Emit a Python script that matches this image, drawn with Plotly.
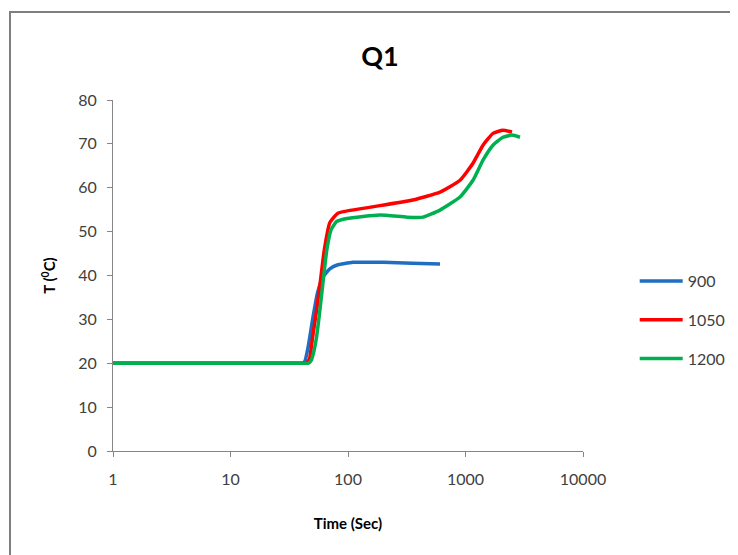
import plotly.graph_objects as go

# Series data (time in seconds, temperature in deg C)
t_900 = [1, 10, 30, 38, 41, 43, 46, 50, 55, 61, 70, 81, 110, 200, 350, 607]
T_900 = [20, 20, 20, 20, 20, 20.5, 24, 30, 36, 39.6, 41.5, 42.4, 43, 43, 42.8, 42.6]

t_1050 = [1, 10, 30, 41, 44, 47, 50, 54, 57.8, 63, 70, 82, 134, 357, 607, 898, 1158, 1409, 1714, 2084, 2488]
T_1050 = [20, 20, 20, 20, 20, 21, 26, 32, 38, 46, 52, 54.2, 55.3, 57.2, 59, 61.7, 65.6, 69.7, 72.4, 73.1, 72.7]

t_1200 = [1, 10, 30, 43, 46, 48.5, 51, 54, 57, 61, 66, 72, 80, 98, 187, 318, 435, 607, 898, 1158, 1409, 1714, 2084, 2488, 2911]
T_1200 = [20, 20, 20, 20, 20, 20.6, 22.5, 26, 31, 38, 45.8, 50.5, 52.3, 53, 53.8, 53.3, 53.3, 54.9, 57.9, 61.7, 66.3, 69.7, 71.5, 72, 71.5]

series_names = ["900", "1050", "1200"]
series_colors = ["#1F6EC1", "#FF0000", "#00B050"]

x_ticks = [1, 10, 100, 1000, 10000]
x_tick_labels = ["1", "10", "100", "1000", "10000"]
y_ticks = [0, 10, 20, 30, 40, 50, 60, 70, 80]

fig = go.Figure()
for i, (xs, ys) in enumerate([(t_900, T_900), (t_1050, T_1050), (t_1200, T_1200)]):
    fig.add_trace(go.Scatter(
        x=xs, y=ys, mode="lines", name=series_names[i],
        line=dict(color=series_colors[i], width=3.5, shape="spline", smoothing=0.45),
        legendgroup=series_names[i],
    ))

# invisible helper trace so the tick-mark overlay axes get drawn
fig.add_trace(go.Scatter(x=t_900, y=T_900, xaxis="x2", yaxis="y2", mode="lines",
                         opacity=0, showlegend=False, hoverinfo="skip",
                         line=dict(width=0)))

font_family = "Lato, Open Sans, sans-serif"
axis_color = "#868686"

# page body adds an 8px offset; compensate in figure size/margins
W, H = 730, 547
L, T = 105, 92
PW, PH = 470, 351

fig.update_layout(
    width=W, height=H,
    margin=dict(l=L, r=W - L - PW, t=T, b=H - T - PH, autoexpand=False),
    paper_bgcolor="white", plot_bgcolor="white",
    font=dict(family=font_family, size=16, color="#404040"),
    title=dict(text="<b>Q1</b>", x=(380 - 8) / W, xanchor="center",
               y=1 - (57 - 8) / H, yanchor="middle",
               font=dict(size=27, color="black", family=font_family)),
    showlegend=True,
    legend=dict(x=1.11, xanchor="left", y=(451 - 320) / 351, yanchor="middle",
                font=dict(size=16, color="#404040", family=font_family),
                tracegroupgap=15, itemwidth=43, bgcolor="rgba(0,0,0,0)"),
    xaxis=dict(type="log", range=[0, 4], tickvals=x_ticks, ticktext=x_tick_labels,
               showgrid=False, zeroline=False, showline=True, linecolor=axis_color, linewidth=1,
               ticks="", ticklabelstandoff=14,
               tickfont=dict(size=16, color="#404040"),
               title=dict(text="<b>Time (Sec)</b>", font=dict(size=15, color="black"), standoff=31)),
    yaxis=dict(range=[0, 80], tickvals=y_ticks,
               showgrid=False, zeroline=False, showline=True, linecolor=axis_color, linewidth=1,
               ticks="", ticklabelstandoff=12,
               tickfont=dict(size=16, color="#404040"),
               title=dict(text="<b>T (<sup>0</sup>C)</b>", font=dict(size=15, color="black"), standoff=18)),
    # tick-mark-only overlay axes
    xaxis2=dict(type="log", range=[0, 4], tickvals=x_ticks, overlaying="x", anchor="y", side="bottom",
                showticklabels=False, showgrid=False, zeroline=False, showline=False,
                ticks="outside", ticklen=5, tickcolor=axis_color),
    yaxis2=dict(range=[0, 80], tickvals=y_ticks, overlaying="y", anchor="x", side="left",
                showticklabels=False, showgrid=False, zeroline=False, showline=False,
                ticks="outside", ticklen=5, tickcolor=axis_color),
    shapes=[dict(type="rect", xref="paper", yref="paper",
                 x0=(10 - 113) / PW, x1=(760 - 113) / PW,
                 y0=(451 - 580) / PH, y1=(451 - 12) / PH,
                 line=dict(color="#7F7F7F", width=2), fillcolor="rgba(0,0,0,0)", layer="below")],
)

fig.write_html("out.html")
